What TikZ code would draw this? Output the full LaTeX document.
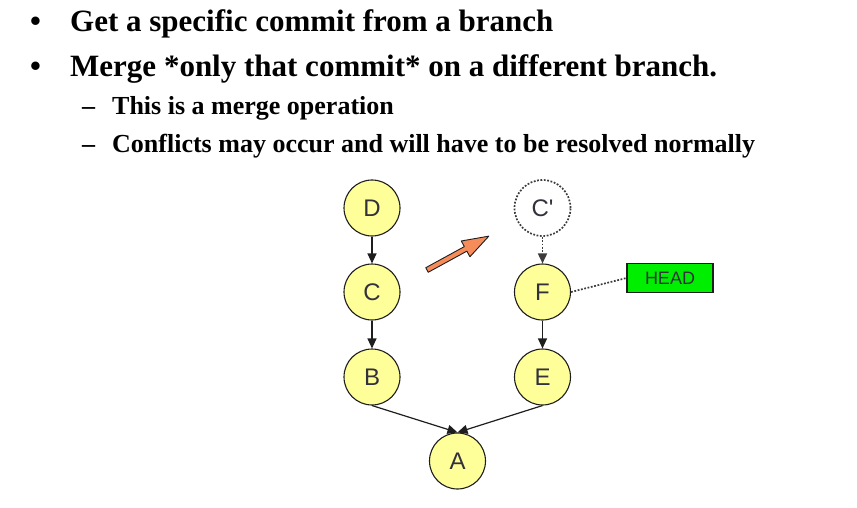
\documentclass[tikz,border=0pt]{standalone}
\usepackage{fontspec}
\setmainfont{Liberation Serif}
\newfontfamily\nodefont{Liberation Sans}
\usetikzlibrary{arrows.meta}
\definecolor{cyellow}{RGB}{255,255,153}
\definecolor{cgreen}{RGB}{0,238,0}
\definecolor{corange}{RGB}{245,140,90}
\definecolor{cedge}{RGB}{30,30,30}
\definecolor{cdot}{RGB}{60,60,60}
\definecolor{ctext}{RGB}{50,50,60}
\tikzset{
  commit/.style={circle, draw=cedge, line width=1.1pt, fill=cyellow, minimum size=56pt, inner sep=0pt, font=\nodefont\fontsize{24}{24}\selectfont, text=ctext},
  ghost/.style={circle, draw=cdot, dash pattern=on 1.8pt off 1.6pt, line width=1.7pt, minimum size=56pt, inner sep=0pt, font=\nodefont\fontsize{24}{24}\selectfont, text=ctext},
  headbox/.style={draw=cedge, line width=1.1pt, fill=cgreen, minimum width=86pt, minimum height=29pt, inner sep=0pt, font=\nodefont\fontsize{18}{18}\selectfont, text=ctext},
  link/.style={-{Triangle[length=10pt,width=9pt]}, line width=1.2pt, draw=cedge},
  dotlink/.style={-{Triangle[length=10pt,width=9pt]}, line width=1.7pt, draw=cdot, dash pattern=on 1.8pt off 1.6pt},
  dotline/.style={line width=1.7pt, draw=cdot, dash pattern=on 1.8pt off 1.6pt},
  bigtext/.style={anchor=base west, inner sep=0pt, font=\bfseries\fontsize{31}{31}\selectfont},
  smalltext/.style={anchor=base west, inner sep=0pt, font=\bfseries\fontsize{26}{26}\selectfont},
}
\begin{document}
\begin{tikzpicture}[x=1pt,y=-1pt]
\useasboundingbox (0,0) rectangle (857,508);
% text
\node[bigtext] (b1) at (30,32) {•};
\node[bigtext] (t1) at (70,32) {Get a specific commit from a branch};
\node[bigtext] (b2) at (30,77) {•};
\node[bigtext] (t2) at (70,77) {Merge *only that commit* on a different branch.};
\node[smalltext] (d3) at (82,115) {–};
\node[smalltext] (t3) at (112,115) {This is a merge operation};
\node[smalltext] (d4) at (82,153) {–};
\node[smalltext] (t4) at (112,153) {Conflicts may occur and will have to be resolved normally};
% commits
\node[commit] (D) at (372,208) {D};
\node[commit] (C) at (372,292) {C};
\node[commit] (B) at (372,377) {B};
\node[commit] (A) at (457.5,461) {A};
\node[commit] (E) at (542.5,377) {E};
\node[commit] (F) at (542.5,292) {F};
\node[ghost] (Cp) at (542.5,208) {C'};
\node[headbox] (H) at (670,278) {HEAD};
% edges
\draw[link] (D) -- (C);
\draw[link] (C) -- (B);
\draw[link] (B.south) -- (A.north);
\draw[link] (E.south) -- (A.north);
\draw[link] (F) -- (E);
\draw[dotlink] (Cp) -- (F);
\draw[dotline] (F.east) -- (H.west);
% orange arrow
\begin{scope}[shift={(427,270)}, rotate=28.7]
\coordinate (oa) at (0,0);
\draw[fill=corange, draw=cedge, line width=0.9pt, line join=round]
  (0,-2.6) -- (44,-2.6) -- (44,-9) -- (70.5,0) -- (44,9) -- (44,2.6) -- (0,2.6) -- cycle;
\end{scope}
\end{tikzpicture}
\end{document}
